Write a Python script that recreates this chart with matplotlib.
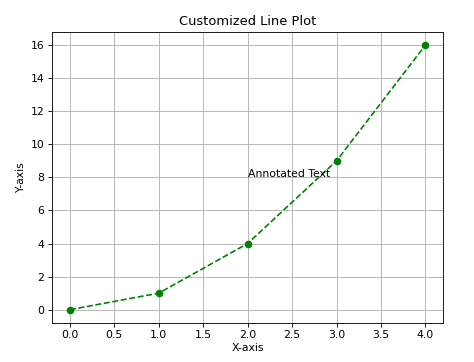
import matplotlib

matplotlib.use("Agg")
import matplotlib.pyplot as plt  # noqa: E402

X_VALUES = [0, 1, 2, 3, 4]
Y_VALUES = [0, 1, 4, 9, 16]
ANNOTATION_TEXT = "Annotated Text"
ANNOTATION_XY = (2, 8)

# the reference looks like a default-size figure scaled down, so render at a
# lower dpi to shrink fonts and line widths together
DPI = 78
WIDTH_PX, HEIGHT_PX = 474, 362

fig = plt.figure(figsize=(WIDTH_PX / DPI, HEIGHT_PX / DPI), dpi=DPI)
ax = fig.add_axes([0.11, 0.108, 0.825, 0.804])

ax.plot(X_VALUES, Y_VALUES, color="green", linestyle="--", marker="o")
ax.annotate(ANNOTATION_TEXT, xy=ANNOTATION_XY, ha="left", va="baseline")

ax.set_title("Customized Line Plot")
ax.set_xlabel("X-axis", labelpad=2)
ax.set_ylabel("Y-axis")
ax.grid(True)

fig.savefig("out.png", dpi=DPI)
